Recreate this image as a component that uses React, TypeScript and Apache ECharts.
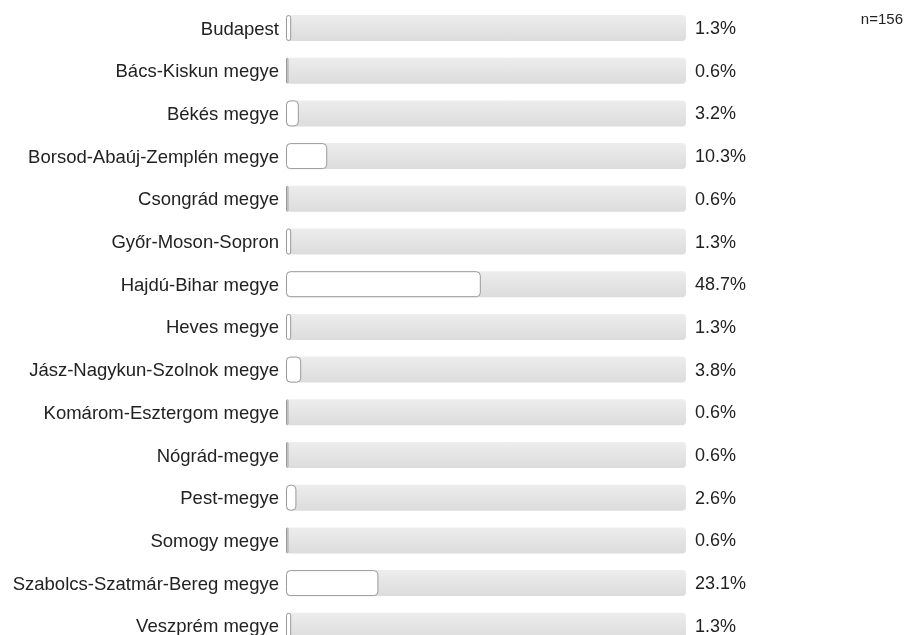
import React, { useEffect, useRef } from "react";
import * as echarts from "echarts";

const categories = [
  "Budapest",
  "Bács-Kiskun megye",
  "Békés megye",
  "Borsod-Abaúj-Zemplén megye",
  "Csongrád megye",
  "Győr-Moson-Sopron",
  "Hajdú-Bihar megye",
  "Heves megye",
  "Jász-Nagykun-Szolnok megye",
  "Komárom-Esztergom megye",
  "Nógrád-megye",
  "Pest-megye",
  "Somogy megye",
  "Szabolcs-Szatmár-Bereg megye",
  "Veszprém megye",
];
const percents = [1.3, 0.6, 3.2, 10.3, 0.6, 1.3, 48.7, 1.3, 3.8, 0.6, 0.6, 2.6, 0.6, 23.1, 1.3];
const trackValues = categories.map(() => 100);
const sampleLabel = "n=156";

export default function App() {
  const ref = useRef<HTMLDivElement>(null);
  useEffect(() => {
    if (!ref.current) return;
    const chart = echarts.init(ref.current, null, { renderer: "svg" });
    const band = 42.7;
    const font = "Liberation Sans, Arial, sans-serif";
    chart.setOption({
      animation: false,
      textStyle: { fontFamily: font },
      graphic: [
        {
          type: "text",
          right: 4,
          top: 11,
          style: { text: sampleLabel, fontSize: 15, fill: "#222", fontFamily: font },
        },
      ],
      grid: { left: 286, width: 400, top: 28 - band / 2, height: band * categories.length },
      xAxis: { type: "value", min: 0, max: 100, show: false },
      yAxis: {
        type: "category",
        data: categories,
        inverse: true,
        axisLine: { show: false },
        axisTick: { show: false },
        axisLabel: { fontSize: 18.5, color: "#222", margin: 7 },
      },
      series: [
        {
          type: "bar",
          data: trackValues,
          barWidth: 26,
          silent: true,
          itemStyle: {
            borderRadius: 4,
            color: new echarts.graphic.LinearGradient(0, 0, 0, 1, [
              { offset: 0, color: "#ededed" },
              { offset: 1, color: "#dcdcdc" },
            ]),
          },
          label: {
            show: true,
            position: "right",
            distance: 9,
            fontSize: 18,
            color: "#222",
            formatter: (p: any) => percents[p.dataIndex].toFixed(1) + "%",
          },
          z: 1,
        },
        {
          type: "bar",
          data: percents,
          barWidth: 26,
          barGap: "-100%",
          itemStyle: {
            color: "#ffffff",
            borderColor: "#999999",
            borderWidth: 1,
            borderRadius: 4,
          },
          z: 2,
        },
      ],
    });
    return () => chart.dispose();
  }, []);
  return (
    <div style={{ position: "fixed", left: 0, top: 0, width: 907, height: 635, overflow: "hidden" }}>
      <div ref={ref} style={{ width: 907, height: 670 }} />
    </div>
  );
}
